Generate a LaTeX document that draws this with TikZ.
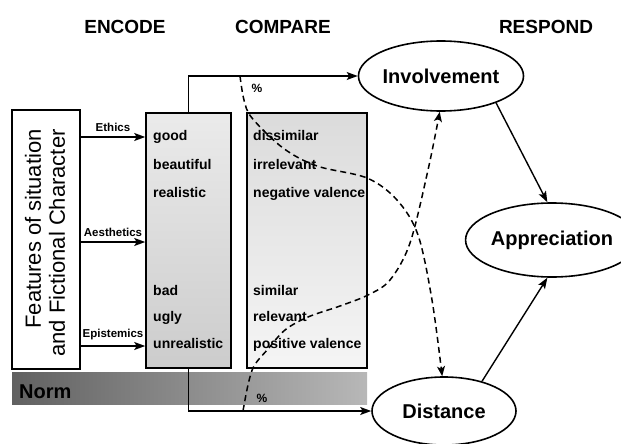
\documentclass[tikz,border=0pt]{standalone}
\usepackage{fontspec}
\setmainfont{Liberation Sans}
\usetikzlibrary{shapes.geometric,arrows.meta}
\begin{document}
\begin{tikzpicture}[x=1pt,y=-1pt,
  every node/.style={font=\bfseries\fontsize{14}{17}\selectfont},
  frame/.style={draw, line width=1.6pt, inner sep=0pt},
  oval/.style={ellipse, draw, line width=1.6pt, inner sep=0pt, font=\bfseries\fontsize{20}{24}\selectfont},
  head/.style={font=\bfseries\fontsize{19}{22}\selectfont, anchor=base},
  word/.style={anchor=base west, inner sep=0pt},
  tag/.style={font=\bfseries\fontsize{11.5}{13}\selectfont, inner sep=0pt},
  link/.style={line width=1.4pt, -{Stealth[length=11pt,width=8pt,inset=2.5pt]}},
  cue/.style={line width=1.5pt, dash pattern=on 6pt off 4pt, -{Stealth[length=10pt,width=8pt,inset=2.5pt]}},
  pct/.style={font=\bfseries\fontsize{12}{14}\selectfont, inner sep=0pt},
]
\useasboundingbox (0,0) rectangle (621,444);

% norm band under the boxes
\shade[left color=black!62, right color=black!28] (12,372) rectangle (367,404);
\node[font=\bfseries\fontsize{20}{22}\selectfont, anchor=base west, inner sep=0pt] (norm) at (19,398) {Norm};

% column headings
\node[head] (h1) at (125,34) {ENCODE};
\node[head] (h2) at (283,34) {COMPARE};
\node[head] (h3) at (546,34) {RESPOND};

% input box
\node[frame, minimum width=68pt, minimum height=259pt] (feat) at (46,239.5) {};
\node[rotate=90, align=right, font=\fontsize{22}{24}\selectfont, inner sep=0pt] (feattxt) at (45,243)
  {Features of situation\\and Fictional Character};

% encode and compare boxes
\node[frame, minimum width=85pt, minimum height=255pt, top color=black!8, bottom color=black!20] (enc) at (188.5,240.5) {};
\node[frame, minimum width=120pt, minimum height=255pt, top color=black!14, bottom color=black!4] (cmp) at (307,240.5) {};

\node[word] (e1) at (153,140) {good};
\node[word] (e2) at (153,169) {beautiful};
\node[word] (e3) at (153,197) {realistic};
\node[word] (e4) at (153,295) {bad};
\node[word] (e5) at (153,321) {ugly};
\node[word] (e6) at (153,348) {unrealistic};

\node[word] (c1) at (253,140) {dissimilar};
\node[word] (c2) at (253,169) {irrelevant};
\node[word] (c3) at (253,197) {negative valence};
\node[word] (c4) at (253,295) {similar};
\node[word] (c5) at (253,321) {relevant};
\node[word] (c6) at (253,348) {positive valence};

% responses
\node[oval, minimum width=140pt, minimum height=70pt] (inv) at (441,76) {Involvement};
\node[oval, minimum width=132pt, minimum height=74pt] (app) at (552,240) {Appreciation};
\node[oval, minimum width=144pt, minimum height=68pt] (dist) at (444,411) {Distance};

% feature dimensions
\coordinate (yE) at (0,137);
\coordinate (yA) at (0,242);
\coordinate (yP) at (0,346);
\draw[link] (feat.east |- yE) -- (enc.west |- yE) node[tag, midway, above=5pt] {Ethics};
\draw[link] (feat.east |- yA) -- (enc.west |- yA) node[tag, midway, above=5pt] {Aesthetics};
\draw[link] (feat.east |- yP) -- (enc.west |- yP) node[tag, midway, above=5pt] {Epistemics};

% main flows
\draw[link] (enc.north) |- (inv.west);
\draw[link] (enc.south) |- (dist.west);
\draw[link] (inv.-26) -- (app.97);
\draw[link] (dist.38) -- (app.-97);

% crossing dashed paths
\coordinate (p1) at (240,76);
\coordinate (q1) at (243,411);
\draw[cue] plot[smooth, tension=0.55] coordinates {(p1) (244,100) (252,118) (283,148) (317,166) (367,178) (397,200) (418,235) (432,300) (dist.93)};
\draw[cue] plot[smooth, tension=0.55] coordinates {(q1) (248,385) (254,366) (268,349) (285,330) (308,317) (340,306) (368,295) (390,280) (410,243) (428,170) (inv.-92)};

\node[pct] (pa) at (257,88) {\%};
\node[pct] (pb) at (262,398) {\%};
\end{tikzpicture}
\end{document}
